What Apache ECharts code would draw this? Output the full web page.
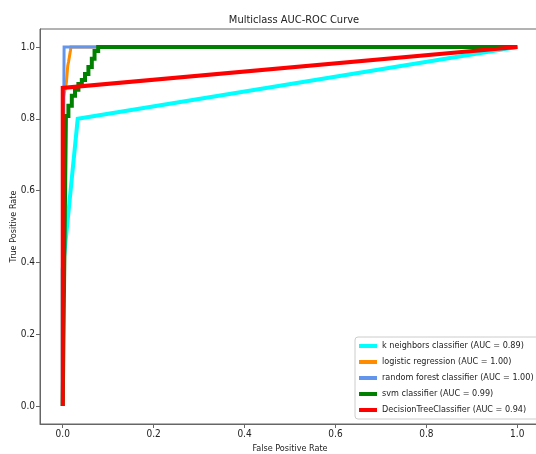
<!DOCTYPE html>
<html>
<head>
<meta charset="utf-8">
<script src="https://cdn.jsdelivr.net/npm/echarts@6/dist/echarts.min.js"></script>
<style>
  html, body { margin: 0; padding: 0; background: #fff; }
  #chart { width: 536px; height: 454px; }
</style>
</head>
<body>
<div id="chart"></div>
<script>
// ROC points
const knnFpr = [0, 0, 0.033, 1]
const knnTpr = [0, 0.38, 0.80, 1]
const logFpr = [0, 0, 0.008, 0.011, 0.013, 0.017, 0.018, 1]
const logTpr = [0, 0.85, 0.90, 0.947, 0.96, 0.99, 1, 1]
const rfFpr = [0, 0, 0.003, 1]
const rfTpr = [0, 0.3, 1, 1]
const svmFpr = [0, 0.007, 0.0125, 0.0125, 0.020, 0.020, 0.027, 0.027, 0.0345, 0.0345, 0.042, 0.042, 0.049, 0.049, 0.0565, 0.0565, 0.064, 0.064, 0.070, 0.070, 0.078, 0.078, 1]
const svmTpr = [0, 0.808, 0.808, 0.836, 0.836, 0.864, 0.864, 0.881, 0.881, 0.897, 0.897, 0.908, 0.908, 0.925, 0.925, 0.944, 0.944, 0.967, 0.967, 0.989, 0.989, 1, 1]
const dtFpr = [0, 0, 1]
const dtTpr = [0, 0.886, 1]

const names = [
  'k neighbors classifier (AUC = 0.89)',
  'logistic regression (AUC = 1.00)',
  'random forest classifier (AUC = 1.00)',
  'svm classifier (AUC = 0.99)',
  'DecisionTreeClassifier (AUC = 0.94)',
]
const colors = ['#00ffff', '#ff8c00', '#6495ed', '#008000', '#ff0000']
const ticks = [0, 0.2, 0.4, 0.6, 0.8, 1.0]

const font = "'DejaVu Sans Condensed', 'Liberation Sans Narrow', 'Liberation Sans', sans-serif"

function pairs(xs, ys) {
  return xs.map((x, i) => [x, ys[i]])
}

const curves = [
  [knnFpr, knnTpr, 4],
  [logFpr, logTpr, 3],
  [rfFpr, rfTpr, 3],
  [svmFpr, svmTpr, 4],
  [dtFpr, dtTpr, 4],
]

let seriesData = []
curves.forEach((c, i) => {
  seriesData.push({
    name: names[i],
    type: 'line',
    showSymbol: false,
    symbol: 'none',
    silent: true,
    data: pairs(c[0], c[1]),
    lineStyle: { color: colors[i], width: c[2], cap: 'butt', join: 'miter' },
    itemStyle: { color: colors[i] },
  })
})

const axisCommon = {
  type: 'value',
  min: -0.05,
  max: 1.05,
  nameLocation: 'middle',
  nameMoveOverlap: false,
  nameTextStyle: { fontSize: 9, color: '#222', fontFamily: font },
  axisLine: { show: true, onZero: false, lineStyle: { color: '#666', width: 1 } },
  axisTick: { show: true, length: 4, customValues: ticks, lineStyle: { color: '#666' } },
  axisLabel: {
    customValues: ticks,
    fontSize: 10,
    color: '#222',
    fontFamily: font,
    margin: 5,
    formatter: v => v.toFixed(1),
  },
  splitLine: { show: false },
}

const chart = echarts.init(document.getElementById('chart'))
chart.setOption({
  animation: false,
  title: {
    text: 'Multiclass AUC-ROC Curve',
    left: 289,
    textAlign: 'center',
    top: 10,
    textStyle: { fontSize: 11, fontWeight: 'normal', color: '#222', fontFamily: font },
  },
  legend: {
    orient: 'vertical',
    left: 355,
    top: 337,
    padding: [4, 6, 4, 4],
    itemGap: 6,
    itemWidth: 18,
    itemHeight: 4,
    icon: 'rect',
    backgroundColor: '#fff',
    borderColor: '#ccc',
    borderWidth: 1,
    borderRadius: 3,
    textStyle: { fontSize: 9, color: '#222', fontFamily: font, lineHeight: 10 },
    data: names,
  },
  grid: {
    left: 40,
    top: 29,
    width: 500,
    height: 395,
    outerBoundsMode: 'none',
    containLabel: false,
    show: true,
    borderColor: '#666',
    borderWidth: 1,
  },
  xAxis: Object.assign({}, axisCommon, { name: 'False Positive Rate', nameGap: 20 }),
  yAxis: Object.assign({}, axisCommon, { name: 'True Positive Rate', nameGap: 22 }),
  color: colors,
  series: seriesData,
})
</script>
</body>
</html>
